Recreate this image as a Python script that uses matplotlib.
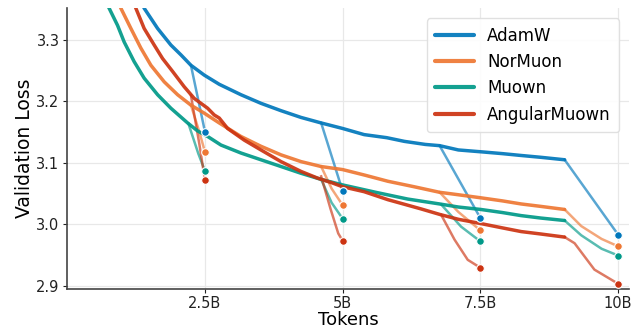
import matplotlib
matplotlib.use("Agg")
import matplotlib.pyplot as plt

methods = ["AdamW", "NorMuon", "Muown", "AngularMuown"]
colors = ["#0077BB", "#EE7733", "#009988", "#CC3311"]

# main (constant-LR) runs: tokens in billions
adamw_t = [1.36, 1.397, 1.641, 1.882, 2.064, 2.246, 2.487, 2.760, 3.154, 3.517, 3.881, 4.244, 4.61, 5.00, 5.39, 5.80, 6.12, 6.50, 6.76, 7.10, 7.51, 7.90, 8.24, 8.60, 9.03]
adamw_v = [3.360, 3.352, 3.319, 3.292, 3.276, 3.259, 3.243, 3.228, 3.211, 3.197, 3.185, 3.174, 3.165, 3.156, 3.146, 3.141, 3.135, 3.130, 3.128, 3.121, 3.118, 3.115, 3.112, 3.109, 3.105]
normuon_t = [0.95, 0.974, 1.156, 1.337, 1.519, 1.761, 2.004, 2.246, 2.487, 2.760, 3.154, 3.517, 3.881, 4.244, 4.61, 5.00, 5.40, 5.82, 6.30, 6.76, 7.10, 7.51, 7.90, 8.24, 8.60, 9.03]
normuon_v = [3.357, 3.352, 3.319, 3.287, 3.259, 3.232, 3.211, 3.194, 3.181, 3.165, 3.143, 3.127, 3.113, 3.102, 3.094, 3.089, 3.080, 3.070, 3.061, 3.052, 3.048, 3.043, 3.038, 3.033, 3.029, 3.024]
muown_t = [0.74, 0.761, 0.914, 1.034, 1.215, 1.397, 1.641, 1.882, 2.186, 2.367, 2.549, 2.791, 3.154, 3.517, 3.881, 4.244, 4.61, 5.00, 5.60, 6.18, 6.76, 7.10, 7.51, 7.90, 8.24, 8.60, 9.03]
muown_v = [3.356, 3.352, 3.324, 3.297, 3.265, 3.238, 3.211, 3.189, 3.165, 3.152, 3.143, 3.129, 3.116, 3.105, 3.094, 3.083, 3.073, 3.064, 3.052, 3.041, 3.033, 3.028, 3.024, 3.019, 3.014, 3.010, 3.006]
angular_t = [1.23, 1.246, 1.397, 1.579, 1.731, 1.913, 2.124, 2.306, 2.427, 2.549, 2.669, 2.760, 2.912, 3.214, 3.517, 3.881, 4.244, 4.548, 4.789, 5.00, 5.39, 5.82, 6.42, 6.76, 7.10, 7.51, 7.90, 8.24, 8.60, 9.03]
angular_v = [3.356, 3.352, 3.319, 3.292, 3.270, 3.249, 3.224, 3.205, 3.197, 3.189, 3.178, 3.173, 3.156, 3.137, 3.121, 3.102, 3.086, 3.075, 3.068, 3.061, 3.053, 3.040, 3.025, 3.016, 3.008, 3.001, 2.994, 2.988, 2.984, 2.979]

# cooldown branches: (tokens, values) per method, each list of branches
adamw_cd_t = [[2.246, 2.50], [4.61, 5.00], [6.76, 7.50], [9.03, 10.0]]
adamw_cd_v = [[3.259, 3.151], [3.165, 3.054], [3.128, 3.010], [3.105, 2.983]]
normuon_cd_t = [[2.246, 2.40, 2.50], [4.61, 4.80, 5.00], [6.76, 7.10, 7.50], [9.03, 9.33, 9.70, 10.0]]
normuon_cd_v = [[3.194, 3.150, 3.118], [3.094, 3.058, 3.031], [3.052, 3.020, 2.990], [3.024, 2.997, 2.976, 2.964]]
muown_cd_t = [[2.20, 2.38, 2.50], [4.61, 4.80, 5.00], [6.79, 7.15, 7.50], [9.03, 9.33, 9.70, 10.0]]
muown_cd_v = [[3.164, 3.115, 3.087], [3.073, 3.035, 3.009], [3.032, 2.996, 2.972], [3.006, 2.982, 2.960, 2.949]]
angular_cd_t = [[2.246, 2.40, 2.50], [4.61, 4.78, 4.92, 5.00], [6.79, 7.03, 7.27, 7.50], [9.03, 9.21, 9.57, 10.0]]
angular_cd_v = [[3.210, 3.130, 3.072], [3.078, 3.025, 2.985, 2.973], [3.015, 2.975, 2.942, 2.929], [2.979, 2.969, 2.926, 2.903]]

xticks = [2.5, 5, 7.5, 10]
xticklabels = ["2.5B", "5B", "7.5B", "10B"]
yticks = [2.9, 3.0, 3.1, 3.2, 3.3]
yticklabels = ["2.9", "3.0", "3.1", "3.2", "3.3"]

mains = [(adamw_t, adamw_v), (normuon_t, normuon_v), (muown_t, muown_v), (angular_t, angular_v)]
cds = [(adamw_cd_t, adamw_cd_v), (normuon_cd_t, normuon_cd_v), (muown_cd_t, muown_cd_v), (angular_cd_t, angular_cd_v)]

fig, ax = plt.subplots(figsize=(6.4, 3.28), dpi=100)
fig.subplots_adjust(left=0.105, right=0.983, top=0.975, bottom=0.12)

for name, c, (t, v), (ct, cv) in zip(methods, colors, mains, cds):
    ax.plot(t, v, color=c, lw=2.5, alpha=0.92, label=name, zorder=3,
            solid_capstyle="round", solid_joinstyle="round")
    for bt, bv in zip(ct, cv):
        ax.plot(bt, bv, color=c, lw=1.8, alpha=0.65, zorder=2, solid_joinstyle="round")
        ax.plot(bt[-1], bv[-1], "o", color=c, ms=5.5, mec="white", mew=0.8, zorder=4)

ax.set_xlim(0, 10.2)
ax.set_ylim(2.895, 3.352)
ax.set_xticks(xticks)
ax.set_xticklabels(xticklabels)
ax.set_yticks(yticks)
ax.set_yticklabels(yticklabels)
ax.tick_params(labelsize=10.5, colors="#222222", length=3, pad=2.5)
ax.grid(True, color="#e8e8e8", lw=0.9)
ax.set_axisbelow(True)
for s in ["top", "right"]:
    ax.spines[s].set_visible(False)
for s in ["left", "bottom"]:
    ax.spines[s].set_color("#444444")
    ax.spines[s].set_linewidth(1.2)
ax.set_xlabel("Tokens", fontsize=13, labelpad=0)
ax.set_ylabel("Validation Loss", fontsize=13.5, labelpad=1.5)
leg = ax.legend(loc="upper right", fontsize=12, handlelength=2.3, framealpha=0.9,
                edgecolor="#dddddd", borderpad=0.5, labelspacing=0.5,
                borderaxespad=0.6)
for h in leg.get_lines():
    h.set_linewidth(3)

fig.savefig("out.png", dpi=100)
